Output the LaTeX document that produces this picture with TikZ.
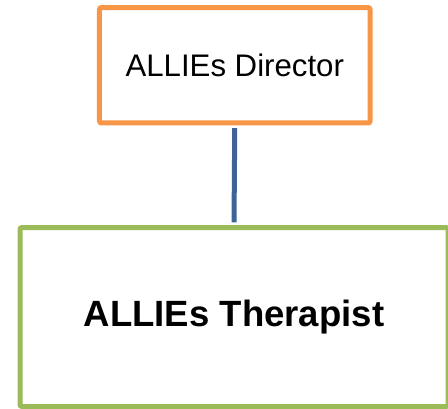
\documentclass[tikz,border=0pt]{standalone}
\usepackage{fontspec}
\setmainfont{Liberation Sans}

\begin{document}
\begin{tikzpicture}[x=0.75pt,y=0.75pt,yscale=-1,xscale=1]
\useasboundingbox (0,0) rectangle (448,408);

%Colours
\definecolor{orgline}{RGB}{247,150,70}
\definecolor{grnline}{RGB}{155,187,89}
\definecolor{bluline}{RGB}{60,100,150}

\tikzset{
  postbox/.style={draw, line width=3.75pt, rounded corners=1.5pt, fill=white, align=center, inner sep=0pt}
}

%Shape: Rectangle [director]
\node [postbox, draw=orgline, minimum width=202.9pt, minimum height=86.6pt, font=\fontsize{23.4}{28}\selectfont] (director) at (234.75,65.25) {ALLIEs Director};
%Shape: Rectangle [therapist]
\node [postbox, draw=grnline, minimum width=321pt, minimum height=134.25pt, font=\fontsize{27.4}{33}\selectfont\bfseries] (therapist) at (234,317) {ALLIEs Therapist};

%Straight Lines [link]
\draw [bluline, line width=3.75pt, shorten <=1.9pt, shorten >=1.9pt] (director.south) -- (therapist.north) ;

\end{tikzpicture}
\end{document}
